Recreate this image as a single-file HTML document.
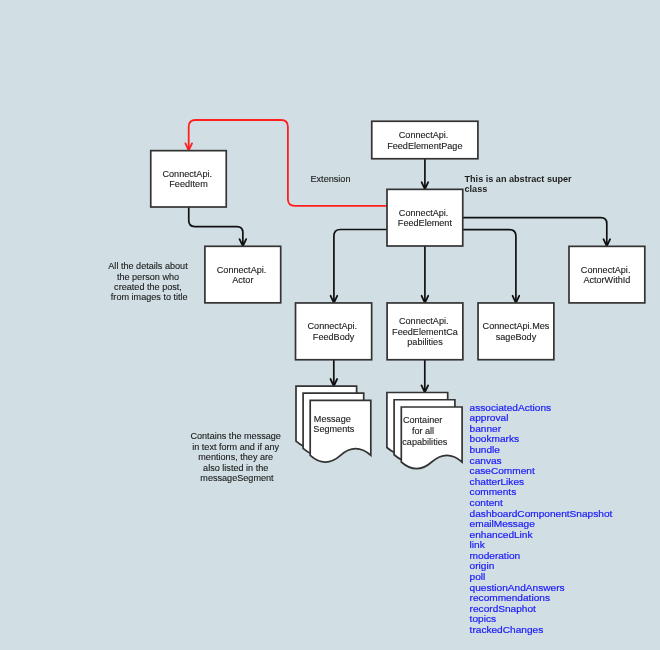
<!DOCTYPE html>
<html><head><meta charset="utf-8"><style>
html,body{margin:0;padding:0;background:#D1DFE4;}
svg{display:block;will-change:transform;font-family:"Liberation Sans",sans-serif;}
</style></head><body>
<svg width="660" height="650" viewBox="0 0 660 650">
<rect x="0" y="0" width="660" height="650" fill="#D1DFE4"/>
<path d="M424.9,158.75 L424.9,189" fill="none" stroke="#111111" stroke-width="1.7" stroke-linejoin="round" stroke-linecap="round"/>
<path d="M421.60,182.20 L424.90,189.20 L428.20,182.20" fill="none" stroke="#111111" stroke-width="1.8" stroke-linejoin="miter" stroke-miterlimit="2" stroke-linecap="round"/>
<path d="M423.20,185.60 L426.60,185.60 L424.90,189.20 Z" fill="#111111"/>
<path d="M387.00,229.50 L340.40,229.50 Q333.90,229.50 333.90,236.00 L333.90,302.60" fill="none" stroke="#111111" stroke-width="1.7" stroke-linejoin="round" stroke-linecap="round"/>
<path d="M330.60,295.80 L333.90,302.80 L337.20,295.80" fill="none" stroke="#111111" stroke-width="1.8" stroke-linejoin="miter" stroke-miterlimit="2" stroke-linecap="round"/>
<path d="M332.20,299.20 L335.60,299.20 L333.90,302.80 Z" fill="#111111"/>
<path d="M424.9,246 L424.9,302.6" fill="none" stroke="#111111" stroke-width="1.7" stroke-linejoin="round" stroke-linecap="round"/>
<path d="M421.60,295.80 L424.90,302.80 L428.20,295.80" fill="none" stroke="#111111" stroke-width="1.8" stroke-linejoin="miter" stroke-miterlimit="2" stroke-linecap="round"/>
<path d="M423.20,299.20 L426.60,299.20 L424.90,302.80 Z" fill="#111111"/>
<path d="M462.75,229.55 L509.40,229.55 Q515.90,229.55 515.90,236.05 L515.90,302.60" fill="none" stroke="#111111" stroke-width="1.7" stroke-linejoin="round" stroke-linecap="round"/>
<path d="M512.60,295.80 L515.90,302.80 L519.20,295.80" fill="none" stroke="#111111" stroke-width="1.8" stroke-linejoin="miter" stroke-miterlimit="2" stroke-linecap="round"/>
<path d="M514.20,299.20 L517.60,299.20 L515.90,302.80 Z" fill="#111111"/>
<path d="M462.75,217.70 L600.80,217.70 Q606.80,217.70 606.80,223.70 L606.80,246.00" fill="none" stroke="#111111" stroke-width="1.7" stroke-linejoin="round" stroke-linecap="round"/>
<path d="M603.50,239.20 L606.80,246.20 L610.10,239.20" fill="none" stroke="#111111" stroke-width="1.8" stroke-linejoin="miter" stroke-miterlimit="2" stroke-linecap="round"/>
<path d="M605.10,242.60 L608.50,242.60 L606.80,246.20 Z" fill="#111111"/>
<path d="M188.75,207.00 L188.75,220.55 Q188.75,226.55 194.75,226.55 L236.85,226.55 Q242.85,226.55 242.85,232.55 L242.85,246.00" fill="none" stroke="#111111" stroke-width="1.7" stroke-linejoin="round" stroke-linecap="round"/>
<path d="M239.55,239.10 L242.85,246.10 L246.15,239.10" fill="none" stroke="#111111" stroke-width="1.8" stroke-linejoin="miter" stroke-miterlimit="2" stroke-linecap="round"/>
<path d="M241.15,242.50 L244.55,242.50 L242.85,246.10 Z" fill="#111111"/>
<path d="M387.00,205.90 L294.70,205.90 Q287.90,205.90 287.90,199.10 L287.90,126.80 Q287.90,120.00 281.10,120.00 L195.50,120.00 Q188.70,120.00 188.70,126.80 L188.70,150.20" fill="none" stroke="#FF1F1F" stroke-width="1.8" stroke-linejoin="round" stroke-linecap="round"/>
<path d="M185.40,143.40 L188.70,150.40 L192.00,143.40" fill="none" stroke="#FF1F1F" stroke-width="1.8" stroke-linejoin="miter" stroke-miterlimit="2" stroke-linecap="round"/>
<path d="M187.00,146.80 L190.40,146.80 L188.70,150.40 Z" fill="#FF1F1F"/>
<path d="M333.8,359.75 L333.8,385.8" fill="none" stroke="#111111" stroke-width="1.7" stroke-linejoin="round" stroke-linecap="round"/>
<path d="M330.50,379.00 L333.80,386.00 L337.10,379.00" fill="none" stroke="#111111" stroke-width="1.8" stroke-linejoin="miter" stroke-miterlimit="2" stroke-linecap="round"/>
<path d="M332.10,382.40 L335.50,382.40 L333.80,386.00 Z" fill="#111111"/>
<path d="M424.8,359.75 L424.8,392.2" fill="none" stroke="#111111" stroke-width="1.7" stroke-linejoin="round" stroke-linecap="round"/>
<path d="M421.50,385.40 L424.80,392.40 L428.10,385.40" fill="none" stroke="#111111" stroke-width="1.8" stroke-linejoin="miter" stroke-miterlimit="2" stroke-linecap="round"/>
<path d="M423.10,388.80 L426.50,388.80 L424.80,392.40 Z" fill="#111111"/>
<rect x="150.75" y="150.65" width="75.50" height="56.35" fill="#fff" stroke="#333333" stroke-width="1.7"/>
<rect x="204.90" y="246.30" width="75.80" height="56.55" fill="#fff" stroke="#333333" stroke-width="1.7"/>
<rect x="371.75" y="121.25" width="106.15" height="37.50" fill="#fff" stroke="#333333" stroke-width="1.7"/>
<rect x="387.00" y="189.35" width="75.75" height="56.65" fill="#fff" stroke="#333333" stroke-width="1.7"/>
<rect x="569.00" y="246.35" width="75.80" height="56.55" fill="#fff" stroke="#333333" stroke-width="1.7"/>
<rect x="295.50" y="302.95" width="76.15" height="56.80" fill="#fff" stroke="#333333" stroke-width="1.7"/>
<rect x="387.10" y="302.95" width="75.75" height="56.80" fill="#fff" stroke="#333333" stroke-width="1.7"/>
<rect x="478.05" y="302.95" width="75.80" height="56.75" fill="#fff" stroke="#333333" stroke-width="1.7"/>
<path d="M296.00,386.10 L356.60,386.10 L356.60,441.20 Q341.45,427.80 326.30,441.20 Q311.15,454.60 296.00,441.20 Z" fill="#fff" stroke="#333333" stroke-width="1.7" stroke-linejoin="miter"/>
<path d="M303.10,393.20 L363.70,393.20 L363.70,448.30 Q348.55,434.90 333.40,448.30 Q318.25,461.70 303.10,448.30 Z" fill="#fff" stroke="#333333" stroke-width="1.7" stroke-linejoin="miter"/>
<path d="M310.20,400.30 L370.80,400.30 L370.80,455.40 Q355.65,442.00 340.50,455.40 Q325.35,468.80 310.20,455.40 Z" fill="#fff" stroke="#333333" stroke-width="1.7" stroke-linejoin="miter"/>
<path d="M386.90,392.50 L447.70,392.50 L447.70,447.50 Q432.50,434.10 417.30,447.50 Q402.10,460.90 386.90,447.50 Z" fill="#fff" stroke="#333333" stroke-width="1.7" stroke-linejoin="miter"/>
<path d="M394.10,399.75 L454.90,399.75 L454.90,454.75 Q439.70,441.35 424.50,454.75 Q409.30,468.15 394.10,454.75 Z" fill="#fff" stroke="#333333" stroke-width="1.7" stroke-linejoin="miter"/>
<path d="M401.30,407.00 L462.10,407.00 L462.10,462.00 Q446.90,448.60 431.70,462.00 Q416.50,475.40 401.30,462.00 Z" fill="#fff" stroke="#333333" stroke-width="1.7" stroke-linejoin="miter"/>
<text transform="translate(187.24,176.78) scale(1.0000,1)" x="0" y="0" text-anchor="middle" font-size="9.1" font-weight="400" fill="#1c1c1c" stroke="#1c1c1c" stroke-width="0.12">ConnectApi.</text>
<text transform="translate(188.50,187.38) scale(1.0000,1)" x="0" y="0" text-anchor="middle" font-size="9.1" font-weight="400" fill="#1c1c1c" stroke="#1c1c1c" stroke-width="0.12">FeedItem</text>
<text transform="translate(241.54,272.53) scale(1.0000,1)" x="0" y="0" text-anchor="middle" font-size="9.1" font-weight="400" fill="#1c1c1c" stroke="#1c1c1c" stroke-width="0.12">ConnectApi.</text>
<text transform="translate(242.80,283.13) scale(1.0000,1)" x="0" y="0" text-anchor="middle" font-size="9.1" font-weight="400" fill="#1c1c1c" stroke="#1c1c1c" stroke-width="0.12">Actor</text>
<text transform="translate(423.56,137.96) scale(1.0000,1)" x="0" y="0" text-anchor="middle" font-size="9.1" font-weight="400" fill="#1c1c1c" stroke="#1c1c1c" stroke-width="0.12">ConnectApi.</text>
<text transform="translate(424.82,148.56) scale(1.0000,1)" x="0" y="0" text-anchor="middle" font-size="9.1" font-weight="400" fill="#1c1c1c" stroke="#1c1c1c" stroke-width="0.12">FeedElementPage</text>
<text transform="translate(423.62,215.63) scale(1.0000,1)" x="0" y="0" text-anchor="middle" font-size="9.1" font-weight="400" fill="#1c1c1c" stroke="#1c1c1c" stroke-width="0.12">ConnectApi.</text>
<text transform="translate(424.88,226.23) scale(1.0000,1)" x="0" y="0" text-anchor="middle" font-size="9.1" font-weight="400" fill="#1c1c1c" stroke="#1c1c1c" stroke-width="0.12">FeedElement</text>
<text transform="translate(605.64,272.58) scale(1.0000,1)" x="0" y="0" text-anchor="middle" font-size="9.1" font-weight="400" fill="#1c1c1c" stroke="#1c1c1c" stroke-width="0.12">ConnectApi.</text>
<text transform="translate(606.90,283.18) scale(1.0000,1)" x="0" y="0" text-anchor="middle" font-size="9.1" font-weight="400" fill="#1c1c1c" stroke="#1c1c1c" stroke-width="0.12">ActorWithId</text>
<text transform="translate(332.31,329.31) scale(1.0000,1)" x="0" y="0" text-anchor="middle" font-size="9.1" font-weight="400" fill="#1c1c1c" stroke="#1c1c1c" stroke-width="0.12">ConnectApi.</text>
<text transform="translate(333.57,339.91) scale(1.0000,1)" x="0" y="0" text-anchor="middle" font-size="9.1" font-weight="400" fill="#1c1c1c" stroke="#1c1c1c" stroke-width="0.12">FeedBody</text>
<text transform="translate(423.72,324.01) scale(1.0000,1)" x="0" y="0" text-anchor="middle" font-size="9.1" font-weight="400" fill="#1c1c1c" stroke="#1c1c1c" stroke-width="0.12">ConnectApi.</text>
<text transform="translate(424.98,334.61) scale(1.0000,1)" x="0" y="0" text-anchor="middle" font-size="9.1" font-weight="400" fill="#1c1c1c" stroke="#1c1c1c" stroke-width="0.12">FeedElementCa</text>
<text transform="translate(424.98,345.21) scale(1.0000,1)" x="0" y="0" text-anchor="middle" font-size="9.1" font-weight="400" fill="#1c1c1c" stroke="#1c1c1c" stroke-width="0.12">pabilities</text>
<text transform="translate(515.95,329.28) scale(1.0000,1)" x="0" y="0" text-anchor="middle" font-size="9.1" font-weight="400" fill="#1c1c1c" stroke="#1c1c1c" stroke-width="0.12">ConnectApi.Mes</text>
<text transform="translate(515.95,339.88) scale(1.0000,1)" x="0" y="0" text-anchor="middle" font-size="9.1" font-weight="400" fill="#1c1c1c" stroke="#1c1c1c" stroke-width="0.12">sageBody</text>
<text transform="translate(332.30,421.66) scale(1.0000,1)" x="0" y="0" text-anchor="middle" font-size="9.1" font-weight="400" fill="#1c1c1c" stroke="#1c1c1c" stroke-width="0.12">Message</text>
<text transform="translate(333.80,432.26) scale(1.0000,1)" x="0" y="0" text-anchor="middle" font-size="9.1" font-weight="400" fill="#1c1c1c" stroke="#1c1c1c" stroke-width="0.12">Segments</text>
<text transform="translate(422.60,423.36) scale(1.0000,1)" x="0" y="0" text-anchor="middle" font-size="9.1" font-weight="400" fill="#1c1c1c" stroke="#1c1c1c" stroke-width="0.12">Container</text>
<text transform="translate(423.00,433.96) scale(1.0000,1)" x="0" y="0" text-anchor="middle" font-size="9.1" font-weight="400" fill="#1c1c1c" stroke="#1c1c1c" stroke-width="0.12">for all</text>
<text transform="translate(424.80,444.56) scale(1.0000,1)" x="0" y="0" text-anchor="middle" font-size="9.1" font-weight="400" fill="#1c1c1c" stroke="#1c1c1c" stroke-width="0.12">capabilities</text>
<text x="310.50" y="181.50" text-anchor="start" font-size="9.1" font-weight="400" fill="#1c1c1c" stroke="#1c1c1c" stroke-width="0.12">Extension</text>
<text x="464.50" y="181.70" text-anchor="start" font-size="9.1" font-weight="700" fill="#1c1c1c" >This is an abstract super</text>
<text x="464.50" y="192.40" text-anchor="start" font-size="9.1" font-weight="700" fill="#1c1c1c" >class</text>
<text transform="translate(147.99,269.26) scale(1.0000,1)" x="0" y="0" text-anchor="middle" font-size="9.1" font-weight="400" fill="#1c1c1c" stroke="#1c1c1c" stroke-width="0.12">All the details about</text>
<text transform="translate(147.99,279.66) scale(1.0000,1)" x="0" y="0" text-anchor="middle" font-size="9.1" font-weight="400" fill="#1c1c1c" stroke="#1c1c1c" stroke-width="0.12">the person who</text>
<text transform="translate(147.99,290.06) scale(1.0000,1)" x="0" y="0" text-anchor="middle" font-size="9.1" font-weight="400" fill="#1c1c1c" stroke="#1c1c1c" stroke-width="0.12">created the post,</text>
<text transform="translate(149.25,300.46) scale(1.0000,1)" x="0" y="0" text-anchor="middle" font-size="9.1" font-weight="400" fill="#1c1c1c" stroke="#1c1c1c" stroke-width="0.12">from images to title</text>
<text transform="translate(235.69,439.46) scale(1.0000,1)" x="0" y="0" text-anchor="middle" font-size="9.1" font-weight="400" fill="#1c1c1c" stroke="#1c1c1c" stroke-width="0.12">Contains the message</text>
<text transform="translate(235.69,449.86) scale(1.0000,1)" x="0" y="0" text-anchor="middle" font-size="9.1" font-weight="400" fill="#1c1c1c" stroke="#1c1c1c" stroke-width="0.12">in text form and if any</text>
<text transform="translate(235.69,460.26) scale(1.0000,1)" x="0" y="0" text-anchor="middle" font-size="9.1" font-weight="400" fill="#1c1c1c" stroke="#1c1c1c" stroke-width="0.12">mentions, they are</text>
<text transform="translate(235.69,470.66) scale(1.0000,1)" x="0" y="0" text-anchor="middle" font-size="9.1" font-weight="400" fill="#1c1c1c" stroke="#1c1c1c" stroke-width="0.12">also listed in the</text>
<text transform="translate(236.95,481.06) scale(1.0000,1)" x="0" y="0" text-anchor="middle" font-size="9.1" font-weight="400" fill="#1c1c1c" stroke="#1c1c1c" stroke-width="0.12">messageSegment</text>
<g transform="translate(469.6,0) scale(1.125,1)">
<text x="0" y="410.70" font-size="9" fill="#1C1CFA" stroke="#1C1CFA" stroke-width="0.2">associatedActions</text>
<text x="0" y="421.29" font-size="9" fill="#1C1CFA" stroke="#1C1CFA" stroke-width="0.2">approval</text>
<text x="0" y="431.87" font-size="9" fill="#1C1CFA" stroke="#1C1CFA" stroke-width="0.2">banner</text>
<text x="0" y="442.46" font-size="9" fill="#1C1CFA" stroke="#1C1CFA" stroke-width="0.2">bookmarks</text>
<text x="0" y="453.04" font-size="9" fill="#1C1CFA" stroke="#1C1CFA" stroke-width="0.2">bundle</text>
<text x="0" y="463.63" font-size="9" fill="#1C1CFA" stroke="#1C1CFA" stroke-width="0.2">canvas</text>
<text x="0" y="474.22" font-size="9" fill="#1C1CFA" stroke="#1C1CFA" stroke-width="0.2">caseComment</text>
<text x="0" y="484.80" font-size="9" fill="#1C1CFA" stroke="#1C1CFA" stroke-width="0.2">chatterLikes</text>
<text x="0" y="495.39" font-size="9" fill="#1C1CFA" stroke="#1C1CFA" stroke-width="0.2">comments</text>
<text x="0" y="505.97" font-size="9" fill="#1C1CFA" stroke="#1C1CFA" stroke-width="0.2">content</text>
<text x="0" y="516.56" font-size="9" fill="#1C1CFA" stroke="#1C1CFA" stroke-width="0.2">dashboardComponentSnapshot</text>
<text x="0" y="527.15" font-size="9" fill="#1C1CFA" stroke="#1C1CFA" stroke-width="0.2">emailMessage</text>
<text x="0" y="537.73" font-size="9" fill="#1C1CFA" stroke="#1C1CFA" stroke-width="0.2">enhancedLink</text>
<text x="0" y="548.32" font-size="9" fill="#1C1CFA" stroke="#1C1CFA" stroke-width="0.2">link</text>
<text x="0" y="558.90" font-size="9" fill="#1C1CFA" stroke="#1C1CFA" stroke-width="0.2">moderation</text>
<text x="0" y="569.49" font-size="9" fill="#1C1CFA" stroke="#1C1CFA" stroke-width="0.2">origin</text>
<text x="0" y="580.08" font-size="9" fill="#1C1CFA" stroke="#1C1CFA" stroke-width="0.2">poll</text>
<text x="0" y="590.66" font-size="9" fill="#1C1CFA" stroke="#1C1CFA" stroke-width="0.2">questionAndAnswers</text>
<text x="0" y="601.25" font-size="9" fill="#1C1CFA" stroke="#1C1CFA" stroke-width="0.2">recommendations</text>
<text x="0" y="611.83" font-size="9" fill="#1C1CFA" stroke="#1C1CFA" stroke-width="0.2">recordSnaphot</text>
<text x="0" y="622.42" font-size="9" fill="#1C1CFA" stroke="#1C1CFA" stroke-width="0.2">topics</text>
<text x="0" y="633.01" font-size="9" fill="#1C1CFA" stroke="#1C1CFA" stroke-width="0.2">trackedChanges</text>
</g>
</svg>
</body></html>
